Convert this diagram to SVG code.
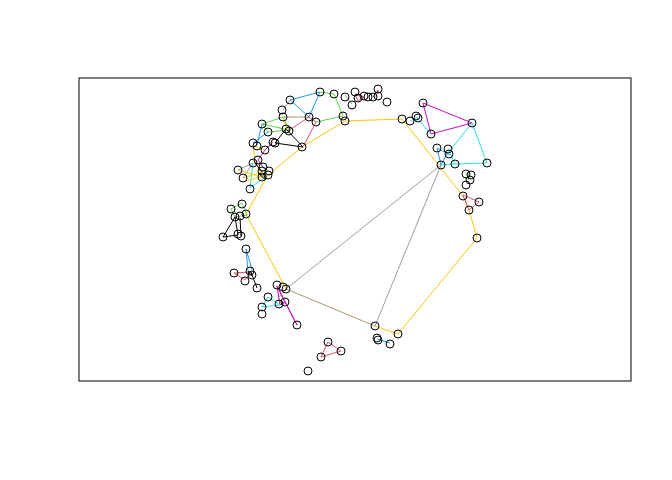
<svg xmlns="http://www.w3.org/2000/svg" width="672" height="480" viewBox="0 0 672 480">
<style>
.e{fill:none;stroke-width:1}
.k{stroke:#000}.r{stroke:#DF536B}.g{stroke:#61D04F}.b{stroke:#2297E6}.c{stroke:#28E2E5}.m{stroke:#CD0BBC}.y{stroke:#F5C710}.a{stroke:#9E9E9E}.o{stroke:#A89A6A}
.v circle{fill:none;stroke:#000;stroke-width:1}
</style>
<rect width="672" height="480" fill="#fff"/>
<rect x="79" y="78" width="552" height="303" fill="none" stroke="#000" stroke-width="1"/>
<g id="edges" class="e">
<polyline class="e y" points="302,147 345,121 402,119 463,196 469,210 477,238 398,334 375,326"/>
<polyline class="e y" points="286,289 246,214 268,175 302,147"/>
<line class="a" x1="441" y1="165" x2="286" y2="289"/>
<line class="a" x1="441" y1="165" x2="375" y2="326"/>
<line class="o" x1="375" y1="326" x2="286" y2="289"/>
<line class="a" x1="286" y1="289" x2="297" y2="325" style="stroke:none"/>
<!-- top cluster -->
<line class="b" x1="290" y1="100" x2="320" y2="92"/>
<line class="b" x1="320" y1="92" x2="309" y2="117"/>
<line class="b" x1="290" y1="100" x2="309" y2="117"/>
<line class="a" x1="290" y1="100" x2="283" y2="110"/>
<line class="o" x1="283" y1="117" x2="309" y2="117"/>
<line class="g" x1="320" y1="92" x2="334" y2="94"/>
<line class="g" x1="334" y1="94" x2="343" y2="116"/>
<line class="g" x1="343" y1="116" x2="316" y2="122"/>
<line class="g" x1="262" y1="124" x2="283" y2="117"/>
<line class="g" x1="262" y1="124" x2="268" y2="132"/>
<line class="g" x1="283" y1="117" x2="289" y2="130"/>
<line class="g" x1="268" y1="132" x2="289" y2="130"/>
<line class="g" x1="262" y1="124" x2="289" y2="130"/>
<line class="r" x1="309" y1="117" x2="288" y2="131"/>
<line class="r" x1="316" y1="122" x2="303" y2="147"/>
<line class="r" x1="309" y1="117" x2="316" y2="122"/>
<line class="k" x1="286" y1="129" x2="303" y2="147"/>
<line class="k" x1="303" y1="147" x2="275" y2="143"/>
<line class="k" x1="286" y1="129" x2="275" y2="143"/>
<line class="y" x1="284" y1="120" x2="287" y2="130"/>
<!-- left upper cluster -->
<line class="b" x1="268" y1="132" x2="253" y2="143"/>
<line class="b" x1="262" y1="124" x2="257" y2="145"/>
<line class="m" x1="265" y1="150" x2="273" y2="142"/>
<line class="m" x1="265" y1="150" x2="258" y2="160"/>
<line class="m" x1="258" y1="160" x2="263" y2="167"/>
<line class="y" x1="253" y1="145" x2="265" y2="150"/>
<line class="y" x1="253" y1="145" x2="255" y2="160"/>
<line class="y" x1="255" y1="160" x2="262" y2="177"/>
<line class="k" x1="255" y1="163" x2="262" y2="172"/>
<line class="a" x1="238" y1="170" x2="253" y2="163"/>
<line class="a" x1="243" y1="178" x2="253" y2="163"/>
<line class="c" x1="263" y1="167" x2="268" y2="175"/>
<line class="c" x1="253" y1="163" x2="250" y2="188"/>
<line class="c" x1="250" y1="188" x2="268" y2="175"/>
<line class="y" x1="243" y1="178" x2="268" y2="170"/>
<line class="y" x1="243" y1="182" x2="268" y2="175"/>
<line class="y" x1="238" y1="170" x2="262" y2="177"/>
<line class="k" x1="258" y1="173" x2="266" y2="180"/>
<!-- left mid cluster -->
<polygon class="e g" points="231,209 242,203 247,215 235,217"/>
<line class="k" x1="235" y1="217" x2="223" y2="237"/>
<line class="k" x1="235" y1="217" x2="238" y2="235"/>
<line class="k" x1="223" y1="237" x2="238" y2="235"/>
<line class="k" x1="240" y1="218" x2="241" y2="236"/>
<!-- lower left cluster -->
<line class="b" x1="246" y1="249" x2="248" y2="271"/>
<line class="b" x1="246" y1="249" x2="252" y2="270"/>
<polygon class="e r" points="234,273 251,272 245,280"/>
<line class="k" x1="251" y1="272" x2="257" y2="288"/>
<line class="k" x1="248" y1="271" x2="252" y2="276"/>
<line class="m" x1="277" y1="286" x2="297" y2="325"/>
<line class="m" x1="277" y1="286" x2="280" y2="305"/>
<line class="m" x1="285" y1="302" x2="297" y2="325"/>
<line class="m" x1="277" y1="286" x2="285" y2="302"/>
<line class="m" x1="280" y1="305" x2="285" y2="302"/>
<line class="c" x1="268" y1="297" x2="262" y2="307"/>
<line class="c" x1="262" y1="307" x2="280" y2="305"/>
<line class="c" x1="268" y1="297" x2="280" y2="305"/>
<line class="a" x1="286" y1="289" x2="279" y2="297"/>
<!-- bottom -->
<polygon class="e r" points="328,342 341,351 321,357"/>
<line class="b" x1="377" y1="339" x2="390" y2="343"/>
<!-- top right small -->
<polygon class="e r" points="355,94 364,97 358,101"/>
<line class="a" x1="345" y1="95" x2="352" y2="104"/>
<line class="r" x1="378" y1="90" x2="376" y2="97"/>
<line class="r" x1="373" y1="97" x2="378" y2="90"/>
<!-- right cluster -->
<polygon class="e m" points="423,103 472,123 431,134"/>
<line class="c" x1="416" y1="117" x2="431" y2="134"/>
<line class="c" x1="410" y1="121" x2="418" y2="117"/>
<line class="c" x1="472" y1="123" x2="448" y2="153"/>
<line class="c" x1="472" y1="123" x2="487" y2="163"/>
<line class="c" x1="455" y1="164" x2="487" y2="163"/>
<line class="c" x1="448" y1="149" x2="455" y2="164"/>
<line class="c" x1="441" y1="165" x2="455" y2="164"/>
<line class="b" x1="437" y1="148" x2="441" y2="165"/>
<line class="b" x1="441" y1="165" x2="448" y2="152"/>
<line class="b" x1="437" y1="148" x2="450" y2="155"/>
<line class="g" x1="466" y1="174" x2="471" y2="178"/>
<line class="g" x1="469" y1="172" x2="468" y2="180"/>
<polygon class="e r" points="463,195 479,202 469,210"/>
</g>
<g id="nodes" class="v">
<circle cx="290" cy="100" r="4"/><circle cx="320" cy="92" r="4"/><circle cx="334" cy="94" r="4"/><circle cx="345" cy="97" r="4"/>
<circle cx="355" cy="92" r="4"/><circle cx="352" cy="105" r="4"/><circle cx="358" cy="98" r="4"/><circle cx="364" cy="96" r="4"/><circle cx="368" cy="97" r="4"/><circle cx="373" cy="97" r="4"/><circle cx="378" cy="89" r="4"/><circle cx="378" cy="96" r="4"/><circle cx="387" cy="102" r="4"/>
<circle cx="345" cy="121" r="4"/><circle cx="343" cy="116" r="4"/><circle cx="309" cy="117" r="4"/><circle cx="316" cy="122" r="4"/>
<circle cx="282" cy="110" r="4"/><circle cx="283" cy="117" r="4"/><circle cx="262" cy="124" r="4"/><circle cx="268" cy="132" r="4"/><circle cx="286" cy="129" r="4"/><circle cx="289" cy="131" r="4"/><circle cx="275" cy="143" r="4"/><circle cx="302" cy="147" r="4"/>
<circle cx="253" cy="143" r="4"/><circle cx="257" cy="146" r="4"/><circle cx="265" cy="150" r="4"/><circle cx="273" cy="142" r="4"/>
<circle cx="253" cy="163" r="4"/><circle cx="258" cy="160" r="4"/><circle cx="263" cy="167" r="4"/><circle cx="238" cy="170" r="4"/><circle cx="243" cy="178" r="4"/><circle cx="262" cy="177" r="4"/><circle cx="268" cy="175" r="4"/><circle cx="262" cy="171" r="4"/><circle cx="269" cy="171" r="4"/><circle cx="250" cy="189" r="4"/>
<circle cx="242" cy="204" r="4"/><circle cx="231" cy="209" r="4"/><circle cx="235" cy="217" r="4"/><circle cx="240" cy="216" r="4"/><circle cx="246" cy="214" r="4"/>
<circle cx="223" cy="237" r="4"/><circle cx="238" cy="234" r="4"/><circle cx="241" cy="236" r="4"/>
<circle cx="246" cy="249" r="4"/><circle cx="234" cy="273" r="4"/><circle cx="245" cy="281" r="4"/><circle cx="250" cy="271" r="4"/><circle cx="252" cy="275" r="4"/><circle cx="257" cy="288" r="4"/>
<circle cx="277" cy="285" r="4"/><circle cx="286" cy="289" r="4"/><circle cx="283" cy="287" r="4"/><circle cx="268" cy="297" r="4"/><circle cx="262" cy="307" r="4"/><circle cx="262" cy="314" r="4"/><circle cx="279" cy="304" r="4"/><circle cx="285" cy="302" r="4"/><circle cx="297" cy="325" r="4"/>
<circle cx="328" cy="342" r="4"/><circle cx="341" cy="351" r="4"/><circle cx="321" cy="357" r="4"/><circle cx="308" cy="371" r="4"/>
<circle cx="375" cy="326" r="4"/><circle cx="398" cy="334" r="4"/><circle cx="377" cy="338" r="4"/><circle cx="378" cy="340" r="4"/><circle cx="390" cy="344" r="4"/>
<circle cx="402" cy="119" r="4"/><circle cx="410" cy="121" r="4"/><circle cx="416" cy="116" r="4"/><circle cx="418" cy="118" r="4"/><circle cx="423" cy="103" r="4"/><circle cx="431" cy="134" r="4"/><circle cx="472" cy="123" r="4"/>
<circle cx="441" cy="165" r="4"/><circle cx="437" cy="148" r="4"/><circle cx="448" cy="149" r="4"/><circle cx="449" cy="154" r="4"/><circle cx="455" cy="164" r="4"/><circle cx="487" cy="163" r="4"/>
<circle cx="466" cy="174" r="4"/><circle cx="471" cy="175" r="4"/><circle cx="470" cy="180" r="4"/><circle cx="466" cy="185" r="4"/>
<circle cx="463" cy="196" r="4"/><circle cx="479" cy="202" r="4"/><circle cx="469" cy="210" r="4"/><circle cx="477" cy="238" r="4"/>
</g>
</svg>
